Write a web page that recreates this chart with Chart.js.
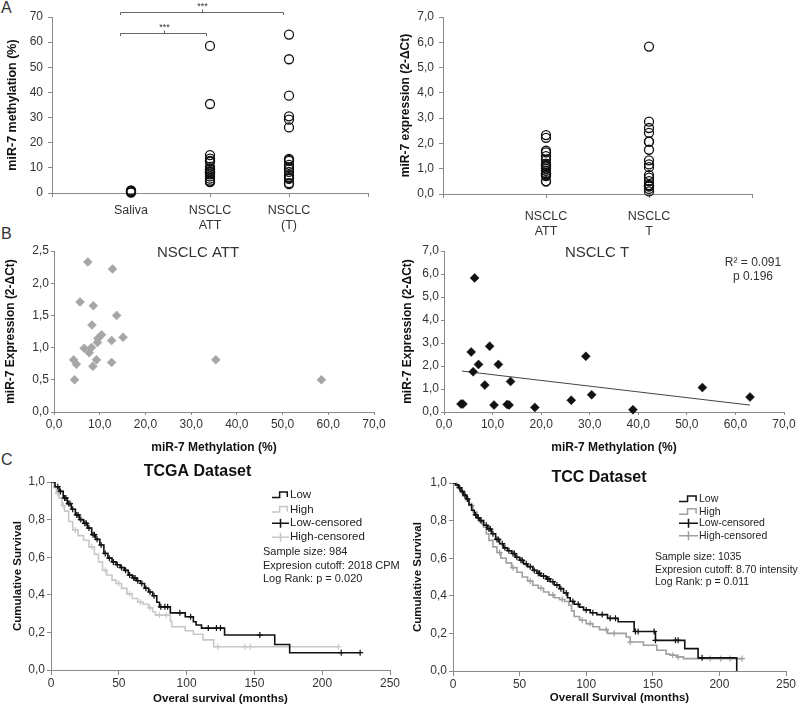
<!DOCTYPE html>
<html><head><meta charset="utf-8">
<script src="https://cdn.jsdelivr.net/npm/chart.js@4.4.1/dist/chart.umd.min.js"></script>
<style>
html,body{margin:0;padding:0;background:#fff;}
body{width:800px;height:711px;position:relative;overflow:hidden;font-family:"Liberation Sans",Arial,sans-serif;}
canvas{position:absolute;}
.lbl{position:absolute;font-size:16px;line-height:16px;color:#333;}
</style></head><body>
<div class="lbl" style="left:1px;top:0px">A</div>
<div class="lbl" style="left:1px;top:226px">B</div>
<div class="lbl" style="left:1px;top:452px">C</div>
<canvas id="a1" width="390" height="240" style="left:0;top:0"></canvas>
<canvas id="a2" width="405" height="240" style="left:395px;top:0"></canvas>
<canvas id="b1" width="395" height="225" style="left:0;top:235px"></canvas>
<canvas id="b2" width="405" height="225" style="left:395px;top:235px"></canvas>
<canvas id="c1" width="405" height="249" style="left:0;top:462px"></canvas>
<canvas id="c2" width="400" height="249" style="left:400px;top:462px"></canvas>
<script>
// ---------------- DATA ----------------
const catA1 = ['', 'Saliva', ['NSCLC', 'ATT'], ['NSCLC', '(T)'], ''];
const catA2 = ['', ['NSCLC', 'ATT'], ['NSCLC', 'T'], ''];

const salivaMeth = [0.2, 0.4, 0.6, 0.8, 1.0];
const attMeth = [7.4, 12.8, 5.7, 8.6, 13.7, 8.3, 10.4, 9.6, 15.1, 12.6, 9.5, 6.6, 8.2, 7.7, 4.3, 9.3, 4.9, 12.6, 8.5, 4.5, 35.4, 58.5];
const attExpr = [2.33, 2.22, 1.71, 1.65, 1.50, 1.35, 1.20, 1.14, 1.16, 1.11, 1.08, 0.99, 1.00, 0.92, 0.81, 0.81, 0.74, 0.77, 0.71, 0.50, 0.81, 0.50];
const tMethA = [63.0, 53.2, 38.7, 30.5, 29.2, 26.1, 13.6, 13.2, 12.8, 11.2, 10.3, 9.4, 8.4, 7.1, 6.3, 6.0, 5.6, 3.9, 3.5];
const tMeth = [6.3, 5.6, 9.4, 7.1, 11.2, 6.0, 8.4, 13.7, 3.5, 3.9, 10.3, 13.0, 13.4, 18.7, 26.2, 29.2, 30.4, 38.9, 53.2, 63.0];
const tExpr = [5.83, 2.61, 2.86, 2.07, 2.07, 1.75, 1.17, 1.33, 0.35, 0.35, 0.30, 0.33, 0.30, 0.20, 0.51, 2.42, 0.75, 0.10, 1.06, 0.65];
const trendT = [[3.7, 1.78], [63.0, 0.30]];

const tcgaLow = [[0,1],[3,0.975],[6,0.95],[9,0.915],[12,0.885],[15,0.855],[18,0.825],[21,0.80],[24,0.78],[27,0.755],[30,0.72],[33,0.695],[36,0.665],[39,0.62],[42,0.595],[45,0.575],[48,0.56],[51,0.545],[54,0.53],[57,0.505],[60,0.49],[63,0.475],[66,0.46],[69,0.435],[72,0.415],[75,0.395],[78,0.36],[80,0.336],[88,0.304],[99,0.283],[105,0.257],[107,0.239],[111,0.223],[128,0.186],[165,0.136],[176,0.092],[228,0.092]];
const tcgaLowCens = [[5,0.975],[7,0.95],[10,0.915],[11,0.915],[13,0.885],[14,0.885],[16,0.855],[19,0.825],[20,0.825],[22,0.80],[25,0.78],[26,0.78],[28,0.755],[31,0.72],[32,0.72],[34,0.695],[37,0.665],[40,0.62],[43,0.595],[46,0.575],[49,0.56],[52,0.545],[55,0.53],[58,0.505],[61,0.49],[62,0.49],[64,0.475],[67,0.46],[70,0.435],[73,0.415],[76,0.395],[81,0.336],[84,0.336],[86,0.336],[95,0.304],[103,0.283],[116,0.223],[122,0.223],[125,0.223],[154,0.186],[214,0.092],[228,0.092]];
const tcgaHigh = [[0,1],[2,0.97],[4,0.94],[6,0.915],[8,0.875],[10,0.845],[13,0.79],[16,0.745],[20,0.715],[24,0.69],[28,0.655],[32,0.615],[35,0.575],[38,0.53],[41,0.505],[45,0.478],[48,0.46],[52,0.434],[56,0.405],[60,0.38],[64,0.36],[68,0.35],[72,0.33],[75,0.31],[77,0.292],[88,0.26],[89,0.23],[99,0.209],[105,0.19],[112,0.16],[120,0.124],[212,0.124]];
const tcgaHighCens = [[5,0.94],[9,0.875],[18,0.745],[30,0.655],[40,0.53],[50,0.46],[58,0.405],[66,0.36],[73,0.33],[80,0.292],[85,0.292],[123,0.124],[143,0.124],[147,0.124],[212,0.124]];

const tccLow = [[0,1],[2,0.99],[4,0.975],[6,0.955],[8,0.935],[10,0.915],[12,0.885],[14,0.855],[16,0.83],[18,0.815],[20,0.80],[23,0.775],[26,0.755],[29,0.73],[32,0.70],[35,0.677],[38,0.655],[41,0.64],[44,0.625],[47,0.605],[50,0.589],[53,0.57],[56,0.555],[60,0.535],[63,0.52],[66,0.505],[70,0.49],[73,0.475],[76,0.458],[80,0.438],[83,0.415],[86,0.39],[88,0.37],[91,0.355],[95,0.34],[98,0.325],[103,0.31],[108,0.30],[116,0.28],[124,0.262],[136,0.21],[152,0.163],[174,0.119],[184,0.07],[213,0]];
const tccLowCens = [[5,0.975],[7,0.955],[9,0.935],[11,0.915],[17,0.83],[19,0.815],[21,0.80],[25,0.775],[27,0.755],[28,0.755],[30,0.73],[33,0.70],[34,0.70],[37,0.677],[39,0.655],[42,0.64],[45,0.625],[46,0.625],[48,0.605],[51,0.589],[52,0.589],[55,0.57],[58,0.555],[61,0.535],[64,0.52],[65,0.52],[68,0.505],[71,0.49],[72,0.49],[75,0.475],[78,0.458],[81,0.438],[85,0.415],[90,0.37],[94,0.355],[100,0.325],[105,0.31],[112,0.30],[118,0.28],[122,0.28],[137,0.21],[139,0.21],[151,0.21],[152,0.163],[167,0.163],[169,0.163],[187,0.07]];
const tccHigh = [[0,1],[2,0.99],[4,0.97],[6,0.95],[8,0.93],[10,0.905],[12,0.88],[15,0.846],[18,0.815],[21,0.79],[23,0.765],[25,0.73],[27,0.695],[30,0.66],[33,0.63],[36,0.60],[40,0.575],[44,0.55],[48,0.525],[52,0.50],[56,0.478],[60,0.456],[64,0.44],[68,0.42],[72,0.405],[76,0.39],[80,0.38],[84,0.37],[87,0.35],[89,0.32],[91,0.29],[95,0.27],[100,0.252],[105,0.235],[110,0.22],[116,0.20],[130,0.181],[133,0.154],[143,0.137],[153,0.11],[160,0.09],[163,0.084],[168,0.075],[173,0.066],[217,0.066]];
const tccHighCens = [[3,0.99],[9,0.93],[14,0.88],[22,0.79],[35,0.63],[45,0.55],[58,0.478],[66,0.44],[75,0.405],[82,0.38],[97,0.27],[103,0.252],[115,0.22],[121,0.20],[133,0.154],[165,0.084],[169,0.075],[193,0.066],[201,0.066],[208,0.066],[217,0.066]];

// ---------------- HELPERS ----------------
Chart.defaults.font.family = '"Liberation Sans", Arial, Helvetica, sans-serif';
Chart.defaults.font.size = 12;
Chart.defaults.color = '#333';
Chart.defaults.animation = false;
Chart.defaults.events = [];
Chart.defaults.plugins.legend.display = false;
Chart.defaults.plugins.tooltip.enabled = false;

const comma1 = v => Number(v).toFixed(1).replace('.', ',');
const pts = a => a.map(([x, y]) => ({x, y}));
const col = (xv, arr) => arr.map(y => ({x: xv, y}));
const pair = (xs, ys) => xs.map((x, i) => ({x, y: ys[i]}));

function yScale(o) {
  return {type: 'linear', position: 'left', min: o.min, max: o.max,
    ticks: {stepSize: o.step, padding: o.pad, color: '#333', font: {size: 12}, callback: o.fmt},
    grid: {drawOnChartArea: false, drawTicks: true, tickLength: o.tl, color: '#888'},
    border: {display: true, color: '#888'},
    title: {display: true, text: o.title, color: '#111', font: {size: o.ts, weight: 'bold'}, padding: {top: o.tp, bottom: 0}},
    afterFit: s => { s.width = o.W; }
  };
}
function xScale(o) {
  return {type: 'linear', position: 'bottom', min: o.min, max: o.max,
    ticks: {stepSize: o.step, padding: o.pad, color: '#333', font: {size: o.fs || 12}, callback: o.fmt, maxRotation: 0, autoSkip: false},
    grid: {drawOnChartArea: false, drawTicks: true, tickLength: o.tl, color: '#888'},
    border: {display: true, color: '#888'},
    title: o.title ? {display: true, text: o.title, color: '#111', font: {size: o.ts, weight: 'bold'}, padding: {top: 0, bottom: o.tp}} : {display: false},
    afterFit: s => { s.height = o.H; }
  };
}
function txt(ctx, s, x, y, font, color, align) {
  ctx.font = font; ctx.fillStyle = color; ctx.textAlign = align || 'center'; ctx.textBaseline = 'middle';
  ctx.fillText(s, x, y);
}
const FF = '"Liberation Sans", Arial, sans-serif';
const circleDs = {showLine: false, pointStyle: 'circle', pointRadius: 4.5, borderColor: '#111', backgroundColor: 'rgba(0,0,0,0)',
  pointBorderColor: '#111', pointBackgroundColor: 'rgba(0,0,0,0)', pointBorderWidth: 1.3, clip: false};

// ---------------- A1 ----------------
const bracketsA1 = [[0.86, 2.92, 72.0, 70.8], [0.86, 1.95, 63.5, 62.4]];
new Chart(document.getElementById('a1'), {
  type: 'scatter',
  data: {datasets: [
    Object.assign({data: col(1, salivaMeth)}, circleDs),
    Object.assign({data: col(2, attMeth)}, circleDs),
    Object.assign({data: col(3, tMethA)}, circleDs)
  ]},
  options: {responsive: false, layout: {padding: {left: 0, top: 17, right: 22, bottom: 0}},
    scales: {
      x: xScale({min: 0, max: 4, step: 1, pad: 6, tl: 4, H: 47, fs: 12.5, fmt: v => catA1[v] ?? ''}),
      y: yScale({min: 0, max: 70, step: 10, pad: 5, tl: 4, W: 52, title: 'miR-7 methylation (%)', ts: 12.5, tp: 5.5, fmt: v => String(v)})
    }},
  plugins: [{id: 'br', afterDraw(chart) {
    const {ctx, scales: {x, y}} = chart;
    ctx.save(); ctx.strokeStyle = '#666'; ctx.lineWidth = 1;
    bracketsA1.forEach(b => {
      const x1 = Math.round(x.getPixelForValue(b[0])) + 0.5, x2 = Math.round(x.getPixelForValue(b[1])) + 0.5;
      const yy = Math.round(y.getPixelForValue(b[2])) + 0.5, ye = y.getPixelForValue(b[3]);
      ctx.beginPath(); ctx.moveTo(x1, ye); ctx.lineTo(x1, yy); ctx.lineTo(x2, yy); ctx.lineTo(x2, ye); ctx.stroke();
      const xm = Math.round((x1 + x2) / 2) + 0.5;
      ctx.beginPath(); ctx.moveTo(xm, yy); ctx.lineTo(xm, yy - 3); ctx.stroke();
      txt(ctx, '***', xm, yy - 6, '9px ' + FF, '#333');
    });
    ctx.restore();
  }}]
});

// ---------------- A2 ----------------
new Chart(document.getElementById('a2'), {
  type: 'scatter',
  data: {datasets: [
    Object.assign({data: col(1, attExpr)}, circleDs),
    Object.assign({data: col(2, tExpr)}, circleDs)
  ]},
  options: {responsive: false, layout: {padding: {left: 0, top: 17, right: 48, bottom: 0}},
    scales: {
      x: xScale({min: 0, max: 3, step: 1, pad: 11, tl: 4, H: 46, fs: 12.5, fmt: v => catA2[v] ?? ''}),
      y: yScale({min: 0, max: 7, step: 1, pad: 5, tl: 4, W: 48, title: 'miR-7 expression (2-\u0394Ct)', ts: 12, tp: 3, fmt: comma1})
    }}
});

// ---------------- B1 ----------------
new Chart(document.getElementById('b1'), {
  type: 'scatter',
  data: {datasets: [{data: pair(attMeth, attExpr), pointStyle: 'rectRot', pointRadius: 4.5, borderColor: '#a6a6a6', backgroundColor: '#a6a6a6',
    pointBorderColor: '#a6a6a6', pointBackgroundColor: '#a6a6a6', pointBorderWidth: 0.5, clip: false}]},
  options: {responsive: false, layout: {padding: {left: 0, top: 16, right: 21, bottom: 0}},
    scales: {
      x: xScale({min: 0, max: 70, step: 10, pad: 2, tl: 3, H: 48, fmt: comma1, title: 'miR-7 Methylation (%)', ts: 12, tp: 5}),
      y: yScale({min: 0, max: 2.5, step: 0.5, pad: 2, tl: 3, W: 54, title: 'miR-7 Expression (2-\u0394Ct)', ts: 12, tp: 3, fmt: comma1})
    }},
  plugins: [{id: 't1', afterDraw(chart) {
    const ctx = chart.ctx; ctx.save();
    txt(ctx, 'NSCLC ATT', 198, 252.7 - 235, '15px ' + FF, '#333');
    ctx.restore();
  }}]
});

// ---------------- B2 ----------------
new Chart(document.getElementById('b2'), {
  type: 'scatter',
  data: {datasets: [
    {data: pair(tMeth, tExpr), pointStyle: 'rectRot', pointRadius: 4.5, borderColor: '#111', backgroundColor: '#111',
      pointBorderColor: '#111', pointBackgroundColor: '#111', pointBorderWidth: 0.5, clip: false},
    {data: pts(trendT), showLine: true, borderColor: '#444', borderWidth: 1, pointRadius: 0, fill: false}
  ]},
  options: {responsive: false, layout: {padding: {left: 0, top: 16, right: 16, bottom: 0}},
    scales: {
      x: xScale({min: 0, max: 70, step: 10, pad: 2, tl: 3, H: 48, fmt: comma1, title: 'miR-7 Methylation (%)', ts: 12, tp: 5}),
      y: yScale({min: 0, max: 7, step: 1, pad: 2, tl: 3, W: 49, title: 'miR-7 Expression (2-\u0394Ct)', ts: 12, tp: 5, fmt: comma1})
    }},
  plugins: [{id: 't2', afterDraw(chart) {
    const ctx = chart.ctx; ctx.save();
    txt(ctx, 'NSCLC T', 597 - 395, 252.7 - 235, '15px ' + FF, '#333');
    txt(ctx, 'R\u00B2 = 0.091', 753 - 395, 263 - 235, '12px ' + FF, '#333');
    txt(ctx, 'p 0.196', 753 - 395, 277 - 235, '12px ' + FF, '#333');
    ctx.restore();
  }}]
});

// ---------------- KM helpers ----------------
function kmDatasets(low, lowC, high, highC, hiCol) {
  return [
    {data: pts(lowC), showLine: false, pointStyle: 'cross', pointRadius: 3, borderColor: '#111', pointBorderColor: '#111', pointBorderWidth: 1.2, order: 0, clip: false},
    {data: pts(low), stepped: true, borderColor: '#111', borderWidth: 1.6, pointRadius: 0, fill: false, order: 1},
    {data: pts(highC), showLine: false, pointStyle: 'cross', pointRadius: 3, borderColor: hiCol, pointBorderColor: hiCol, pointBorderWidth: 1.2, order: 2, clip: false},
    {data: pts(high), stepped: true, borderColor: hiCol, borderWidth: 1.6, pointRadius: 0, fill: false, order: 3}
  ];
}
function kmLegend(ctx, L) {
  const names = ['Low', 'High', 'Low-censored', 'High-censored'];
  const cols = ['#111', L.hi, '#111', L.hi];
  ctx.save();
  names.forEach((n, i) => {
    const y = L.rows[i] - L.oy, x0 = L.ix - L.ox, w = L.iw;
    ctx.strokeStyle = cols[i]; ctx.lineWidth = 1.5;
    ctx.beginPath();
    if (i < 2) {
      ctx.moveTo(x0, y + 2.5); ctx.lineTo(x0 + w * 0.45, y + 2.5); ctx.lineTo(x0 + w * 0.45, y - 3);
      ctx.lineTo(x0 + w * 0.9, y - 3); ctx.lineTo(x0 + w * 0.9, y + 2);
    } else {
      ctx.moveTo(x0, y); ctx.lineTo(x0 + w, y);
      ctx.moveTo(x0 + w * 0.5, y - 4.5); ctx.lineTo(x0 + w * 0.5, y + 4.5);
    }
    ctx.stroke();
    txt(ctx, n, L.tx - L.ox, y, L.lf + 'px ' + FF, '#222', 'left');
  });
  L.stats.forEach((s, i) => txt(ctx, s, L.sx - L.ox, L.sy[i] - L.oy, L.sf + 'px ' + FF, '#222', 'left'));
  txt(ctx, L.title, L.titleX - L.ox, L.titleY - L.oy, 'bold 16px ' + FF, '#111');
  ctx.restore();
}

// ---------------- C1 ----------------
new Chart(document.getElementById('c1'), {
  type: 'line',
  data: {datasets: kmDatasets(tcgaLow, tcgaLowCens, tcgaHigh, tcgaHighCens, '#c8c8c8')},
  options: {responsive: false, layout: {padding: {left: 0, top: 20, right: 15, bottom: 0}},
    scales: {
      x: xScale({min: 0, max: 250, step: 50, pad: 1, tl: 5, H: 41, fmt: v => String(v), title: 'Overal survival (months)', ts: 11.5, tp: 5}),
      y: yScale({min: 0, max: 1, step: 0.2, pad: 2, tl: 4, W: 51, title: 'Cumulative Survival', ts: 11.5, tp: 11, fmt: comma1})
    }},
  plugins: [{id: 'l1', afterDraw(chart) {
    kmLegend(chart.ctx, {ox: 0, oy: 462, ix: 272, iw: 17, tx: 290, rows: [495, 509.5, 523.3, 537.3],
      stats: ['Sample size: 984', 'Expresion cutoff: 2018 CPM', 'Log Rank: p = 0.020'], sx: 263, sy: [551.7, 565.5, 578.5],
      hi: '#c8c8c8', lf: 11.5, sf: 11, title: 'TCGA Dataset', titleX: 197.5, titleY: 472});
  }}]
});

// ---------------- C2 ----------------
new Chart(document.getElementById('c2'), {
  type: 'line',
  data: {datasets: kmDatasets(tccLow, tccLowCens, tccHigh, tccHighCens, '#a0a0a0')},
  options: {responsive: false, layout: {padding: {left: 0, top: 21, right: 14, bottom: 0}},
    scales: {
      x: xScale({min: 0, max: 250, step: 50, pad: 1, tl: 5, H: 40, fmt: v => String(v), title: 'Overall Survival (months)', ts: 11.5, tp: 6}),
      y: yScale({min: 0, max: 1, step: 0.2, pad: 2, tl: 4, W: 53, title: 'Cumulative Survival', ts: 11.5, tp: 11, fmt: comma1})
    }},
  plugins: [{id: 'l2', afterDraw(chart) {
    kmLegend(chart.ctx, {ox: 400, oy: 462, ix: 679, iw: 19, tx: 699, rows: [499, 511.7, 523.3, 535.7],
      stats: ['Sample size: 1035', 'Expresion cutoff: 8.70 intensity', 'Log Rank: p = 0.011'], sx: 655, sy: [557.3, 570, 581.7],
      hi: '#a0a0a0', lf: 10.5, sf: 10.5, title: 'TCC Dataset', titleX: 599, titleY: 478});
  }}]
});
</script>
</body></html>
